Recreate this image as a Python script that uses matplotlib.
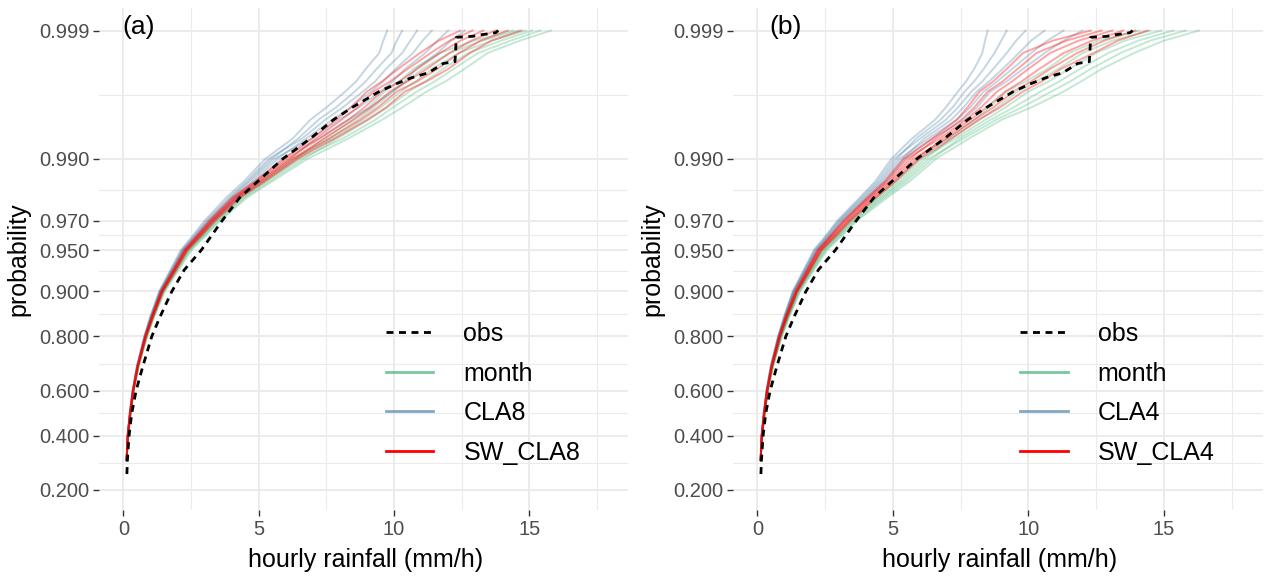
import numpy as np
import matplotlib
matplotlib.use("Agg")
import matplotlib.pyplot as plt
from matplotlib.lines import Line2D
from matplotlib.ticker import FixedLocator, FixedFormatter, NullFormatter

plt.rcParams['font.family'] = ['Liberation Sans', 'DejaVu Sans']

P_LEVELS = [0.30, 0.40, 0.50, 0.60, 0.70, 0.80, 0.85, 0.90, 0.93, 0.95, 0.96, 0.97,
            0.98, 0.985, 0.99, 0.993, 0.995, 0.996, 0.997, 0.9975, 0.998, 0.9985,
            0.9988, 0.999]

# observed curve (same in both panels): rainfall and probability
OBS_X = [0.13, 0.15, 0.21, 0.31, 0.47, 0.72, 1.05, 1.35, 1.79, 2.25, 2.88, 3.65,
         4.30, 5.90, 6.90, 7.75, 8.45, 9.45, 10.10, 10.65, 11.27, 11.82, 12.25,
         12.30, 12.90, 13.20, 13.75, 13.85]
OBS_P = [0.25, 0.30, 0.40, 0.50, 0.60, 0.70, 0.80, 0.85, 0.90, 0.93, 0.95, 0.97,
         0.98, 0.99, 0.993, 0.995, 0.996, 0.997, 0.9974, 0.99766, 0.99786, 0.99819,
         0.99825, 0.99887, 0.99889, 0.99892, 0.99896, 0.999]

# panel (a): one row per probability level, one column per member
A_MONTH = [
    [0.12, 0.12, 0.12, 0.12, 0.12, 0.12],
    [0.16, 0.17, 0.17, 0.17, 0.17, 0.18],
    [0.25, 0.26, 0.26, 0.26, 0.27, 0.27],
    [0.36, 0.37, 0.37, 0.37, 0.38, 0.38],
    [0.54, 0.54, 0.55, 0.55, 0.56, 0.57],
    [0.83, 0.84, 0.85, 0.86, 0.87, 0.88],
    [1.07, 1.08, 1.10, 1.11, 1.12, 1.14],
    [1.43, 1.45, 1.47, 1.48, 1.50, 1.53],
    [1.90, 1.93, 1.95, 1.97, 2.00, 2.04],
    [2.33, 2.37, 2.40, 2.43, 2.47, 2.52],
    [2.78, 2.82, 2.86, 2.90, 2.94, 2.99],
    [3.33, 3.38, 3.43, 3.47, 3.52, 3.58],
    [4.22, 4.29, 4.36, 4.42, 4.49, 4.57],
    [5.05, 5.14, 5.22, 5.30, 5.40, 5.50],
    [6.20, 6.32, 6.44, 6.55, 6.68, 6.82],
    [7.45, 7.75, 7.60, 8.10, 7.90, 8.30],
    [8.45, 8.85, 8.65, 9.30, 9.05, 9.55],
    [9.05, 9.50, 9.25, 9.95, 9.75, 10.30],
    [9.65, 10.25, 9.95, 10.85, 10.55, 11.20],
    [10.20, 10.80, 10.45, 11.50, 11.15, 11.90],
    [10.70, 11.40, 11.05, 12.20, 11.80, 12.60],
    [11.70, 12.40, 12.05, 13.10, 12.75, 13.45],
    [12.95, 13.60, 13.25, 14.30, 13.95, 14.65],
    [14.40, 14.85, 14.60, 15.40, 15.10, 15.80],
]
A_CLA = [
    [0.12, 0.12, 0.12, 0.12, 0.12, 0.12],
    [0.15, 0.16, 0.16, 0.16, 0.16, 0.17],
    [0.23, 0.24, 0.24, 0.24, 0.25, 0.25],
    [0.34, 0.34, 0.35, 0.35, 0.36, 0.36],
    [0.50, 0.50, 0.51, 0.51, 0.52, 0.53],
    [0.77, 0.78, 0.79, 0.79, 0.80, 0.81],
    [0.99, 1.00, 1.01, 1.02, 1.03, 1.04],
    [1.32, 1.34, 1.35, 1.36, 1.38, 1.40],
    [1.74, 1.77, 1.79, 1.81, 1.84, 1.87],
    [2.12, 2.16, 2.19, 2.21, 2.25, 2.29],
    [2.52, 2.57, 2.61, 2.64, 2.69, 2.74],
    [3.00, 3.07, 3.12, 3.16, 3.22, 3.28],
    [3.80, 3.90, 3.96, 4.02, 4.10, 4.18],
    [4.45, 4.55, 4.62, 4.70, 4.80, 4.90],
    [5.25, 5.38, 5.48, 5.58, 5.70, 5.85],
    [6.25, 6.60, 6.45, 6.95, 6.75, 7.20],
    [6.90, 7.45, 7.20, 7.95, 7.70, 8.30],
    [7.50, 8.10, 7.85, 8.70, 8.40, 9.10],
    [8.20, 8.85, 8.55, 9.50, 9.15, 9.95],
    [8.60, 9.30, 8.95, 9.95, 9.60, 10.40],
    [8.95, 9.70, 9.35, 10.40, 10.05, 10.80],
    [9.45, 10.30, 9.90, 11.15, 10.70, 11.60],
    [9.60, 10.60, 10.10, 11.60, 11.05, 12.10],
    [9.75, 10.85, 10.30, 12.00, 11.40, 12.60],
]
A_SW = [
    [0.12, 0.12, 0.12, 0.12, 0.12, 0.12],
    [0.16, 0.16, 0.16, 0.16, 0.17, 0.17],
    [0.24, 0.25, 0.25, 0.25, 0.26, 0.26],
    [0.35, 0.35, 0.36, 0.36, 0.37, 0.37],
    [0.52, 0.52, 0.53, 0.53, 0.54, 0.55],
    [0.80, 0.81, 0.82, 0.82, 0.83, 0.84],
    [1.04, 1.05, 1.06, 1.07, 1.08, 1.09],
    [1.39, 1.40, 1.42, 1.43, 1.44, 1.46],
    [1.84, 1.86, 1.88, 1.90, 1.92, 1.95],
    [2.24, 2.27, 2.30, 2.32, 2.35, 2.38],
    [2.66, 2.70, 2.73, 2.76, 2.80, 2.84],
    [3.18, 3.23, 3.27, 3.31, 3.35, 3.40],
    [4.02, 4.08, 4.14, 4.19, 4.25, 4.32],
    [4.85, 4.93, 5.00, 5.07, 5.15, 5.23],
    [5.95, 6.05, 6.15, 6.25, 6.35, 6.45],
    [6.95, 7.25, 7.10, 7.60, 7.40, 7.80],
    [7.85, 8.30, 8.05, 8.75, 8.50, 9.00],
    [8.40, 8.90, 8.65, 9.40, 9.15, 9.70],
    [9.00, 9.55, 9.25, 10.10, 9.85, 10.40],
    [9.55, 10.20, 9.85, 10.85, 10.50, 11.20],
    [10.15, 10.85, 10.50, 11.60, 11.20, 12.00],
    [10.95, 11.70, 11.35, 12.40, 12.05, 12.80],
    [11.65, 12.45, 12.05, 13.20, 12.85, 13.60],
    [12.45, 13.30, 12.90, 14.20, 13.75, 14.70],
]

# panel (b)
B_MONTH = [
    [0.12, 0.12, 0.12, 0.12, 0.12, 0.12],
    [0.16, 0.17, 0.17, 0.17, 0.18, 0.18],
    [0.26, 0.26, 0.27, 0.27, 0.27, 0.28],
    [0.37, 0.37, 0.38, 0.38, 0.39, 0.39],
    [0.55, 0.55, 0.56, 0.57, 0.57, 0.58],
    [0.85, 0.86, 0.87, 0.88, 0.89, 0.90],
    [1.10, 1.11, 1.12, 1.14, 1.15, 1.17],
    [1.46, 1.48, 1.50, 1.52, 1.55, 1.58],
    [1.93, 1.96, 1.99, 2.02, 2.05, 2.09],
    [2.36, 2.40, 2.44, 2.48, 2.52, 2.57],
    [2.83, 2.88, 2.92, 2.96, 3.01, 3.07],
    [3.40, 3.46, 3.51, 3.56, 3.62, 3.68],
    [4.40, 4.47, 4.55, 4.62, 4.70, 4.80],
    [5.10, 5.20, 5.30, 5.40, 5.50, 5.62],
    [5.95, 6.08, 6.20, 6.33, 6.46, 6.60],
    [7.00, 7.30, 7.15, 7.60, 7.45, 7.80],
    [8.00, 8.40, 8.20, 8.80, 8.60, 9.00],
    [8.55, 9.15, 8.85, 9.75, 9.45, 10.10],
    [9.20, 10.00, 9.60, 10.85, 10.45, 11.30],
    [9.90, 10.75, 10.30, 11.55, 11.15, 11.95],
    [10.70, 11.50, 11.10, 12.30, 11.90, 12.70],
    [11.50, 12.50, 12.00, 13.40, 12.95, 13.90],
    [12.60, 13.55, 13.10, 14.50, 14.05, 15.00],
    [14.10, 14.90, 14.50, 15.80, 15.35, 16.30],
]
B_CLA = [
    [0.12, 0.12, 0.12, 0.12, 0.12, 0.12],
    [0.15, 0.15, 0.16, 0.16, 0.16, 0.16],
    [0.23, 0.23, 0.24, 0.24, 0.24, 0.25],
    [0.33, 0.34, 0.34, 0.35, 0.35, 0.36],
    [0.49, 0.50, 0.50, 0.51, 0.51, 0.52],
    [0.76, 0.77, 0.78, 0.78, 0.79, 0.80],
    [0.98, 0.99, 1.00, 1.01, 1.02, 1.03],
    [1.30, 1.32, 1.33, 1.35, 1.36, 1.38],
    [1.71, 1.74, 1.76, 1.79, 1.81, 1.84],
    [2.08, 2.12, 2.15, 2.18, 2.21, 2.25],
    [2.48, 2.52, 2.56, 2.60, 2.63, 2.68],
    [2.95, 3.00, 3.04, 3.08, 3.13, 3.18],
    [3.78, 3.84, 3.91, 3.97, 4.04, 4.12],
    [4.35, 4.43, 4.51, 4.58, 4.66, 4.75],
    [4.95, 5.05, 5.15, 5.25, 5.35, 5.45],
    [5.70, 6.00, 5.85, 6.30, 6.15, 6.45],
    [6.55, 6.95, 6.75, 7.35, 7.15, 7.60],
    [6.95, 7.40, 7.20, 7.85, 7.60, 8.10],
    [7.40, 7.90, 7.65, 8.35, 8.10, 8.60],
    [7.70, 8.30, 8.00, 8.85, 8.55, 9.20],
    [8.00, 8.70, 8.35, 9.40, 9.05, 9.80],
    [8.30, 9.20, 8.75, 10.10, 9.65, 10.60],
    [8.40, 9.55, 9.00, 10.70, 10.10, 11.30],
    [8.50, 9.90, 9.20, 11.30, 10.60, 12.00],
]
B_SW = [
    [0.12, 0.12, 0.12, 0.12, 0.12, 0.12],
    [0.16, 0.16, 0.16, 0.16, 0.17, 0.17],
    [0.24, 0.25, 0.25, 0.25, 0.26, 0.26],
    [0.35, 0.35, 0.36, 0.36, 0.37, 0.37],
    [0.52, 0.52, 0.53, 0.53, 0.54, 0.55],
    [0.80, 0.81, 0.82, 0.82, 0.83, 0.84],
    [1.04, 1.05, 1.06, 1.07, 1.08, 1.10],
    [1.40, 1.42, 1.43, 1.45, 1.46, 1.48],
    [1.83, 1.86, 1.88, 1.91, 1.93, 1.96],
    [2.22, 2.26, 2.29, 2.32, 2.35, 2.38],
    [2.65, 2.69, 2.73, 2.77, 2.81, 2.86],
    [3.18, 3.23, 3.28, 3.33, 3.38, 3.44],
    [4.05, 4.11, 4.18, 4.24, 4.31, 4.38],
    [4.70, 4.78, 4.86, 4.94, 5.02, 5.10],
    [5.40, 5.52, 5.64, 5.76, 5.88, 6.00],
    [6.45, 6.72, 6.58, 7.00, 6.86, 7.15],
    [7.35, 7.70, 7.52, 8.00, 7.85, 8.15],
    [7.75, 8.25, 8.00, 8.70, 8.45, 8.95],
    [8.20, 8.85, 8.50, 9.45, 9.15, 9.80],
    [8.70, 9.40, 9.05, 10.10, 9.75, 10.50],
    [9.20, 10.00, 9.60, 10.80, 10.40, 11.20],
    [9.80, 10.80, 10.30, 11.80, 11.30, 12.40],
    [10.90, 11.85, 11.40, 12.80, 12.35, 13.30],
    [12.30, 13.10, 12.70, 13.95, 13.50, 14.40],
]

Y_TICKS = [0.2, 0.4, 0.6, 0.8, 0.9, 0.95, 0.97, 0.99, 0.999]
Y_LABELS = ['0.200', '0.400', '0.600', '0.800', '0.900', '0.950', '0.970', '0.990', '0.999']
X_TICKS = [0, 5, 10, 15]
X_MINOR = [2.5, 7.5, 12.5, 17.5]

C_MONTH = '#3CB371'
C_CLA = '#4F83A8'
C_SW = '#FF0000'
GRID = '#EBEBEB'


def logit(p):
    p = np.asarray(p)
    return np.log(p / (1 - p))


# minor gridlines halfway between the major breaks (in logit space)
mids = (logit(Y_TICKS[:-1]) + logit(Y_TICKS[1:])) / 2
Y_MINOR = list(1 / (1 + np.exp(-mids)))


def draw_panel(ax, month, cla, sw, cla_name):
    for members, colour, a in [(month, C_MONTH, 0.3), (cla, C_CLA, 0.33), (sw, C_SW, 0.36)]:
        for xs in np.array(members).T:
            ax.plot(xs, P_LEVELS, color=colour, alpha=a, lw=1.4)
    ax.plot(OBS_X, OBS_P, color='black', lw=2.0, ls=(0, (2.5, 2)))

    ax.set_yscale('logit')
    ax.set_ylim(0.1483, 0.999334)
    ax.set_xlim(-0.9, 18.64)
    ax.yaxis.set_major_locator(FixedLocator(Y_TICKS))
    ax.yaxis.set_major_formatter(FixedFormatter(Y_LABELS))
    ax.yaxis.set_minor_locator(FixedLocator(Y_MINOR))
    ax.yaxis.set_minor_formatter(NullFormatter())
    ax.xaxis.set_major_locator(FixedLocator(X_TICKS))
    ax.xaxis.set_minor_locator(FixedLocator(X_MINOR))

    ax.grid(which='major', color=GRID, lw=1.4)
    ax.grid(which='minor', color=GRID, lw=0.8)
    ax.set_axisbelow(True)
    for s in ax.spines.values():
        s.set_visible(False)
    ax.tick_params(which='major', length=4, width=1.0, color='#333333',
                   labelcolor='#4D4D4D', labelsize=14.5, pad=3)
    ax.tick_params(which='minor', length=0)

    handles = [
        Line2D([0], [0], color='black', lw=2.0, ls=(0, (2.5, 2))),
        Line2D([0], [0], color=C_MONTH, lw=2.0, alpha=0.7),
        Line2D([0], [0], color=C_CLA, lw=2.0, alpha=0.7),
        Line2D([0], [0], color=C_SW, lw=2.0),
    ]
    labels = ['obs', 'month', cla_name, 'SW_' + cla_name]
    ax.legend(handles, labels, loc='upper left', bbox_to_anchor=(0.5425, 0.3745),
              frameon=False, fontsize=18, handlelength=1.9, handletextpad=1.2,
              labelspacing=0.62, borderpad=0, borderaxespad=0)


fig = plt.figure(figsize=(12.68, 5.77), dpi=100)
ax_a = fig.add_axes([99 / 1268, 1 - 510 / 577, 529 / 1268, 502 / 577])
ax_b = fig.add_axes([733 / 1268, 1 - 510 / 577, 529.5 / 1268, 502 / 577])

draw_panel(ax_a, A_MONTH, A_CLA, A_SW, 'CLA8')
draw_panel(ax_b, B_MONTH, B_CLA, B_SW, 'CLA4')

# axis titles and panel tags
for cx, ylab_x, tag, tag_x in [(366, 18, '(a)', 122), (1000, 652, '(b)', 769)]:
    fig.text(cx / 1268, 1 - 560 / 577, 'hourly rainfall (mm/h)', fontsize=18,
             ha='center', va='center')
    fig.text(ylab_x / 1268, 1 - 259 / 577, 'probability', fontsize=18,
             rotation=90, ha='center', va='center')
    fig.text(tag_x / 1268, 1 - 27 / 577, tag, fontsize=19, ha='left', va='center')

fig.savefig('out.png', dpi=100)
